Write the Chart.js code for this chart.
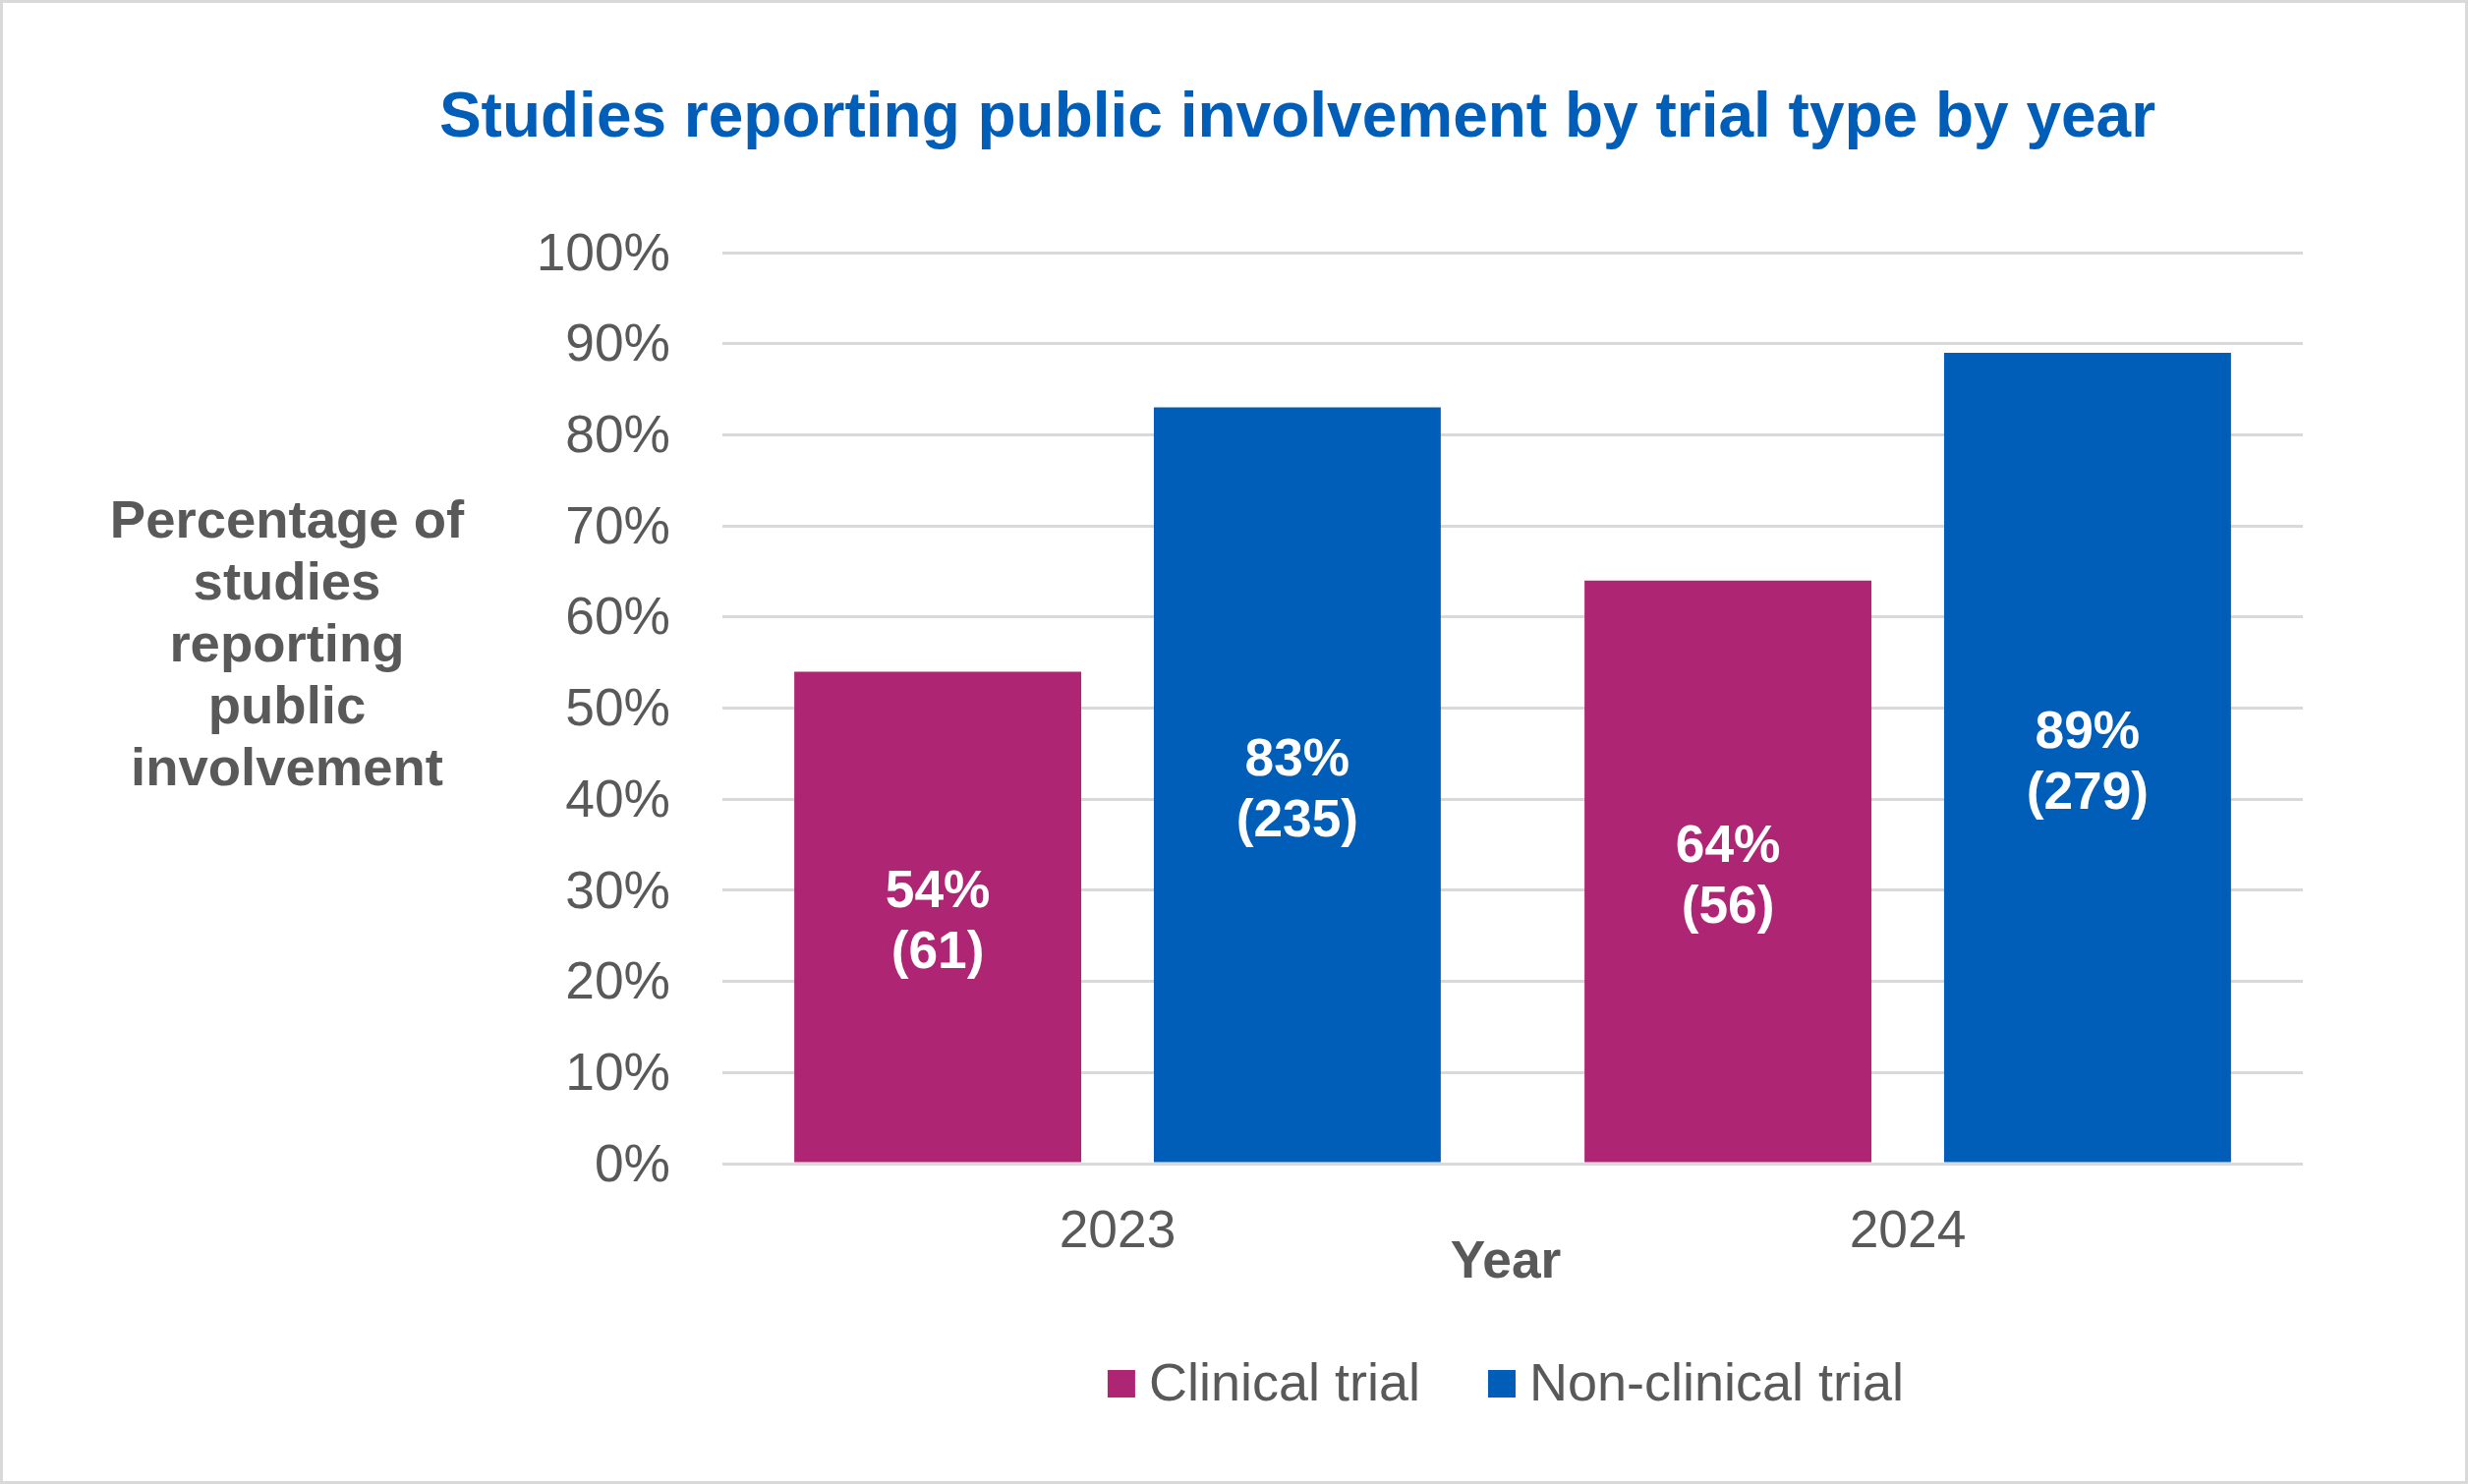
<!DOCTYPE html>
<html>
<head>
<meta charset="utf-8">
<script src="https://cdn.jsdelivr.net/npm/chart.js@4/dist/chart.umd.min.js"></script>
<style>
  html, body { margin: 0; padding: 0; background: #ffffff; }
  #wrap { position: relative; width: 2511px; height: 1510px; }
  canvas { display: block; }
</style>
</head>
<body>
<div id="wrap"><canvas id="c" width="2511" height="1510"></canvas></div>
<script>
// ---- Data ----
const years = ["2023", "2024"];
const seriesNames = ["Clinical trial", "Non-clinical trial"];
const clinicalPct = [54, 64];
const nonClinicalPct = [83, 89];
const clinicalN = [61, 56];
const nonClinicalN = [235, 279];
const yTickValues = [0, 10, 20, 30, 40, 50, 60, 70, 80, 90, 100];

const titleText = "Studies reporting public involvement by trial type by year";
const yTitleLines = ["Percentage of", "studies", "reporting", "public", "involvement"];
const xTitleText = "Year";

// ---- Styles ----
const FONT = "'Liberation Sans', Arial, Helvetica, sans-serif";
const GREY = "#595959";
const MAGENTA = "#AE2573";
const BLUE = "#005EB8";
const GRID = "#D9D9D9";

const counts = [clinicalN, nonClinicalN];

const overlay = {
  id: "overlay",
  afterDraw(chart) {
    const ctx = chart.ctx;
    ctx.save();
    // outer border
    ctx.strokeStyle = GRID;
    ctx.lineWidth = 3;
    ctx.strokeRect(1.5, 1.5, chart.width - 3, chart.height - 3);

    // title
    ctx.fillStyle = BLUE;
    ctx.font = "bold 64px " + FONT;
    ctx.textAlign = "center";
    ctx.textBaseline = "alphabetic";
    ctx.fillText(titleText, 1320, 139);

    // y-axis title (horizontal, multi-line)
    ctx.fillStyle = GREY;
    ctx.font = "bold 54.5px " + FONT;
    yTitleLines.forEach((ln, i) => ctx.fillText(ln, 292, 547 + i * 63));

    // x-axis title
    ctx.font = "bold 53.3px " + FONT;
    ctx.fillText(xTitleText, 1532, 1300);

    // data labels
    ctx.fillStyle = "#ffffff";
    ctx.font = "bold 53.3px " + FONT;
    chart.data.datasets.forEach((ds, di) => {
      const meta = chart.getDatasetMeta(di);
      meta.data.forEach((bar, i) => {
        const cx = bar.x;
        const cy = (bar.y + bar.base) / 2;
        ctx.fillText(ds.data[i] + "%", cx, cy - 10);
        ctx.fillText("(" + counts[di][i] + ")", cx, cy + 52);
      });
    });

    // legend
    ctx.font = "54px " + FONT;
    ctx.textAlign = "left";
    const box = 28, gapBox = 14, gapItem = 69;
    let total = 0;
    const widths = chart.data.datasets.map(ds => ctx.measureText(ds.label).width);
    widths.forEach((w, i) => { total += box + gapBox + w + (i < widths.length - 1 ? gapItem : 0); });
    let x = 1532 - total / 2;
    chart.data.datasets.forEach((ds, i) => {
      ctx.fillStyle = ds.backgroundColor;
      ctx.fillRect(x, 1394, box, box);
      x += box + gapBox;
      ctx.fillStyle = GREY;
      ctx.fillText(ds.label, x, 1425);
      x += widths[i] + gapItem;
    });
    ctx.restore();
  }
};

new Chart(document.getElementById("c"), {
  type: "bar",
  data: {
    labels: years,
    datasets: [
      { label: seriesNames[0], data: clinicalPct, backgroundColor: MAGENTA },
      { label: seriesNames[1], data: nonClinicalPct, backgroundColor: BLUE }
    ]
  },
  options: {
    responsive: false,
    devicePixelRatio: 1,
    animation: false,
    layout: { padding: { top: 257, right: 168, left: 0, bottom: 0 } },
    datasets: { bar: { categoryPercentage: 0.91, barPercentage: 0.798 } },
    plugins: {
      legend: { display: false },
      title: { display: false },
      tooltip: { enabled: false }
    },
    scales: {
      x: {
        grid: { display: false },
        border: { display: false },
        ticks: { color: GREY, font: { family: FONT, size: 53.3 }, padding: 30 },
        afterFit(scale) { scale.height = 1510 - 1184; }
      },
      y: {
        min: 0,
        max: 100,
        afterBuildTicks(scale) { scale.ticks = yTickValues.map(v => ({ value: v })); },
        grid: { color: GRID, lineWidth: 3, drawTicks: false },
        border: { display: false },
        ticks: {
          color: GREY,
          font: { family: FONT, size: 53.3 },
          padding: 53,
          labelOffset: 3,
          callback: v => v + "%"
        },
        afterFit(scale) { scale.width = 735; }
      }
    }
  },
  plugins: [overlay]
});
</script>
</body>
</html>
